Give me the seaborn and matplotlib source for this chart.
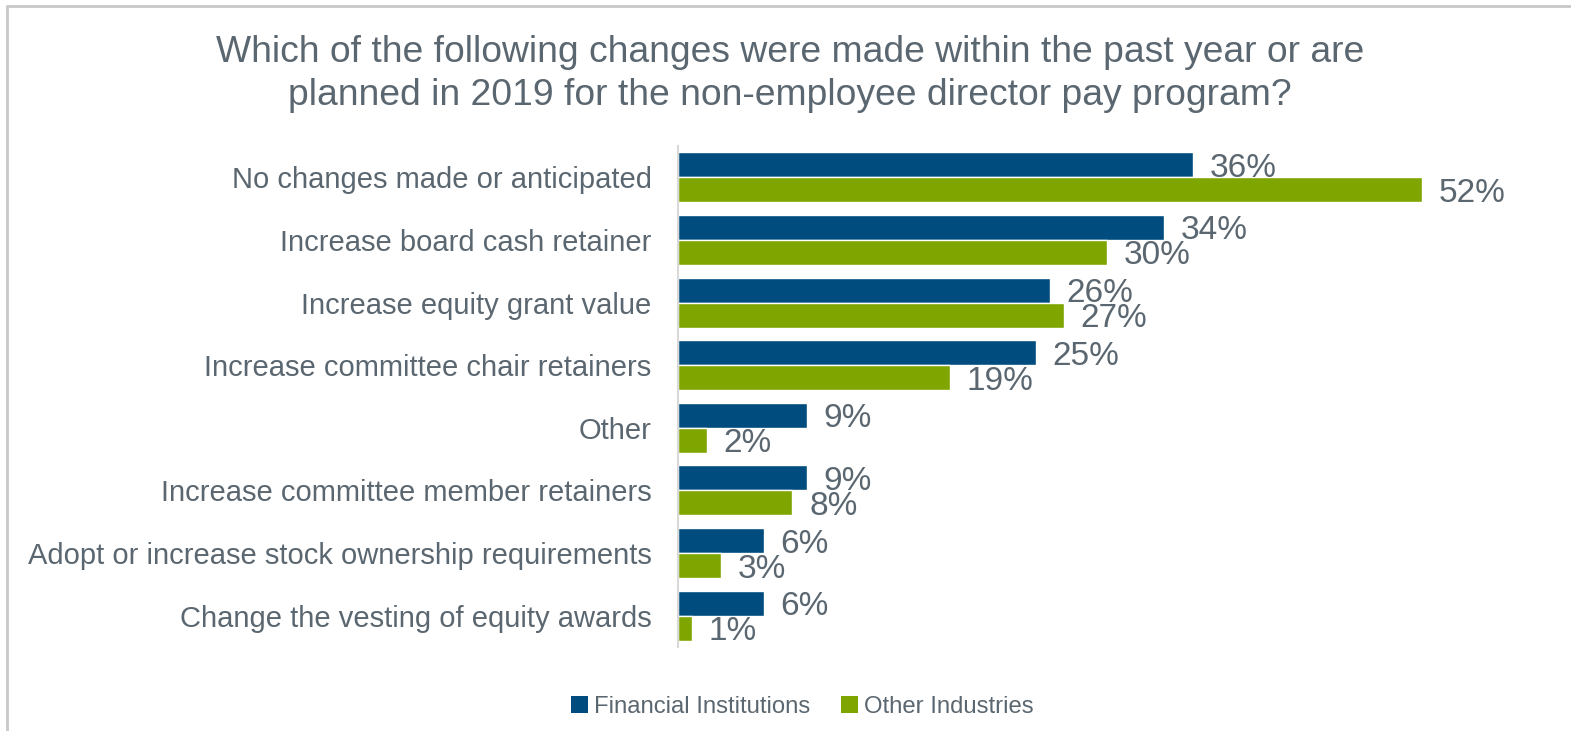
import matplotlib
matplotlib.use("Agg")
import matplotlib.pyplot as plt
from matplotlib.lines import Line2D
from matplotlib.patches import Patch
import seaborn as sns
import pandas as pd

categories = [
    "No changes made or anticipated",
    "Increase board cash retainer",
    "Increase equity grant value",
    "Increase committee chair retainers",
    "Other",
    "Increase committee member retainers",
    "Adopt or increase stock ownership requirements",
    "Change the vesting of equity awards",
]
financial = [36, 34, 26, 25, 9, 9, 6, 6]
other = [52, 30, 27, 19, 2, 8, 3, 1]
series_names = ["Financial Institutions", "Other Industries"]
colors = ["#004C7E", "#7FA500"]
text_color = "#5B6770"

df = pd.DataFrame({
    "category": categories * 2,
    "value": financial + other,
    "group": [series_names[0]] * len(categories) + [series_names[1]] * len(categories),
})

sns.set_theme(style="white")
plt.rcParams["font.family"] = ["Liberation Sans", "DejaVu Sans"]

W, H = 1571, 731
fig = plt.figure(figsize=(W / 100, H / 100), dpi=100)
ax = fig.add_axes([678 / W, 1 - 647 / H, 858 / W, 501 / H])

sns.barplot(
    data=df, x="value", y="category", hue="group",
    order=categories, hue_order=series_names,
    palette=colors, orient="h", width=0.8, saturation=1,
    ax=ax, legend=False,
)

ax.set_xlim(0, 60)
ax.set_xlabel("")
ax.set_ylabel("")
ax.set_xticks([])
ax.tick_params(axis="y", length=0, pad=19, labelsize=21, labelcolor=text_color)
for s in ["top", "right", "bottom"]:
    ax.spines[s].set_visible(False)
ax.spines["left"].set_color("#D9D9D9")
ax.spines["left"].set_linewidth(1.5)

for cont in ax.containers:
    labels = ax.bar_label(cont, fmt="%d%%", padding=12, fontsize=24, color=text_color)
    for t in labels:
        t.xyann = (12, -2.5)

fig.text(0.503, 1 - 74 / H,
         "Which of the following changes were made within the past year or are\n"
         "planned in 2019 for the non-employee director pay program?",
         ha="center", va="center", fontsize=26.8, color=text_color, linespacing=1.26)

handles = [Patch(facecolor=c, edgecolor="none") for c in colors]
fig.legend(handles, series_names, loc="center", bbox_to_anchor=(802 / W, 1 - 707 / H),
           ncol=2, frameon=False, fontsize=17.2, labelcolor=text_color,
           handlelength=0.7, handleheight=0.7, handletextpad=0.25, columnspacing=1.3)

# thin frame around the chart area
fig.add_artist(Line2D([7 / W, 7 / W], [0, 1 - 6 / H], transform=fig.transFigure,
                      color="#C8C8C8", lw=2))
fig.add_artist(Line2D([7 / W, 1], [1 - 6 / H, 1 - 6 / H], transform=fig.transFigure,
                      color="#C8C8C8", lw=2))

fig.savefig("out.png", dpi=100)
